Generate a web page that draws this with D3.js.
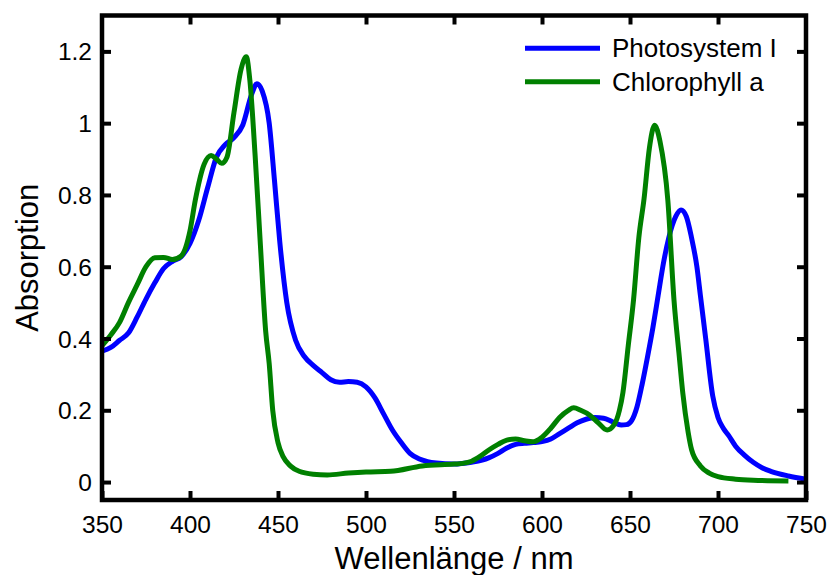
<!DOCTYPE html>
<html lang="de">
<head>
<meta charset="UTF-8" />
<title>Absorptionsspektrum</title>
<script src="https://cdn.jsdelivr.net/npm/d3@7"></script>
<style>
  body { margin: 0; background: #fff; }
  text { font-family: "Liberation Sans", Arial, sans-serif; fill: #000; }
</style>
</head>
<body>
<div id="chart"></div>
<script>
// Wellenlänge (nm) und Absorption
const psiNm = [350, 355, 360, 365, 370, 375, 380, 385, 390, 395, 400, 405, 410, 415, 420, 425, 430, 435, 438, 441,
  445, 448, 451, 455, 460, 465, 470, 475, 480, 485, 490, 495, 500, 505, 510, 515, 520, 525, 530, 535,
  540, 550, 560, 566, 570, 575, 580, 585, 590, 595, 600, 605, 610, 615, 620, 625, 630, 635, 640, 645,
  648, 651, 654, 657, 660, 663, 666, 669, 672, 676, 679, 682, 685, 688, 690, 693, 697, 700, 703, 706,
  710, 715, 720, 725, 730, 740, 750]
const psiAbs = [0.365, 0.375, 0.395, 0.415, 0.46, 0.51, 0.555, 0.595, 0.615, 0.628, 0.665, 0.73, 0.82, 0.905, 0.94, 0.96, 0.995, 1.08, 1.11, 1.09,
  1.0, 0.84, 0.67, 0.5, 0.395, 0.35, 0.325, 0.305, 0.285, 0.278, 0.28, 0.278, 0.265, 0.235, 0.19, 0.145, 0.11, 0.08, 0.065, 0.057,
  0.053, 0.05, 0.055, 0.061, 0.068, 0.08, 0.095, 0.105, 0.108, 0.11, 0.113, 0.12, 0.135, 0.15, 0.165, 0.175, 0.18, 0.178, 0.168, 0.159,
  0.16, 0.172, 0.21, 0.275, 0.35, 0.43, 0.52, 0.61, 0.68, 0.74, 0.758, 0.74, 0.68, 0.6, 0.52, 0.4, 0.24, 0.18, 0.15, 0.13,
  0.1, 0.075, 0.055, 0.04, 0.03, 0.017, 0.008]

const chlNm = [350, 355, 360, 365, 370, 375, 380, 385, 390, 395, 400, 403, 408, 412, 415, 418, 421, 425, 429, 432,
  434, 437, 440, 443, 445, 447, 450, 453, 457, 462, 470, 478, 490, 500, 514, 532, 550, 555, 560, 565,
  570, 575, 580, 585, 590, 595, 600, 605, 610, 615, 618, 622, 627, 632, 637, 641, 644, 646, 649, 652,
  655, 658, 661, 664, 667, 671.5, 675, 678, 680, 683, 685, 690, 695, 700, 710, 720, 740]
const chlAbs = [0.38, 0.41, 0.445, 0.5, 0.55, 0.6, 0.625, 0.626, 0.62, 0.63, 0.7, 0.785, 0.885, 0.91, 0.9, 0.888, 0.905, 1.03, 1.15, 1.185,
  1.12, 0.91, 0.66, 0.42, 0.33, 0.2, 0.11, 0.07, 0.045, 0.03, 0.022, 0.02, 0.025, 0.028, 0.03, 0.045, 0.05, 0.052, 0.058, 0.072,
  0.09, 0.105, 0.117, 0.12, 0.115, 0.112, 0.125, 0.15, 0.18, 0.2, 0.207, 0.2, 0.187, 0.165, 0.145, 0.16, 0.2, 0.25, 0.38, 0.507,
  0.68, 0.79, 0.93, 0.994, 0.95, 0.785, 0.507, 0.35, 0.248, 0.14, 0.09, 0.045, 0.025, 0.015, 0.008, 0.005, 0.003]

const seriesNames = ["Photosystem I", "Chlorophyll a"]
const xTicks = [350, 400, 450, 500, 550, 600, 650, 700, 750]
const yTicks = [0, 0.2, 0.4, 0.6, 0.8, 1, 1.2]

const width = 829
const height = 575
const margin = ({ top: 15.5, right: 23, bottom: 75, left: 102 })
const colors = ["#0000ff", "#008000"]

const x = d3.scaleLinear()
  .domain([350, 750])
  .range([margin.left, width - margin.right])

const y = d3.scaleLinear()
  .domain([-0.05, 1.3])
  .range([height - margin.bottom, margin.top])

const svg = d3.select("#chart").append("svg")
  .attr("width", width)
  .attr("height", height)

const series = [
  psiNm.map((d, i) => ({ x: d, y: psiAbs[i] })),
  chlNm.map((d, i) => ({ x: d, y: chlAbs[i] }))
]

const line = d3.line()
  .x(d => x(d.x))
  .y(d => y(d.y))
  .curve(d3.curveMonotoneX)

svg.append("g")
  .selectAll("path")
  .data(series)
  .join("path")
  .attr("fill", "none")
  .attr("stroke", (d, i) => colors[i])
  .attr("stroke-width", 5)
  .attr("stroke-linejoin", "round")
  .attr("d", line)

// axes with inward ticks on all four sides
const tickLen = 9
const styleAxis = g => {
  g.select(".domain").remove()
  g.selectAll(".tick line").attr("stroke-width", 4)
}

svg.append("g")
  .attr("transform", `translate(0,${y.range()[0]})`)
  .call(d3.axisBottom(x).tickValues(xTicks).tickSize(-tickLen).tickFormat(d3.format("d")))
  .call(styleAxis)
  .call(g => g.selectAll(".tick text").attr("y", 33).attr("dy", 0).attr("font-size", 24.5))

svg.append("g")
  .attr("transform", `translate(0,${y.range()[1]})`)
  .call(d3.axisTop(x).tickValues(xTicks.slice(1, -1)).tickSize(-tickLen).tickFormat(""))
  .call(styleAxis)

svg.append("g")
  .attr("transform", `translate(${x.range()[0]},0)`)
  .call(d3.axisLeft(y).tickValues(yTicks).tickSize(-tickLen).tickFormat(d3.format("~g")))
  .call(styleAxis)
  .call(g => g.selectAll(".tick text").attr("x", -10).attr("dy", "0.35em").attr("font-size", 24.5))

svg.append("g")
  .attr("transform", `translate(${x.range()[1]},0)`)
  .call(d3.axisRight(y).tickValues(yTicks).tickSize(-tickLen).tickFormat(""))
  .call(styleAxis)

svg.append("rect")
  .attr("x", x.range()[0])
  .attr("y", y.range()[1])
  .attr("width", x.range()[1] - x.range()[0])
  .attr("height", y.range()[0] - y.range()[1])
  .attr("fill", "none")
  .attr("stroke", "#000")
  .attr("stroke-width", 4.5)

svg.selectAll("text").style("font-family", "'Liberation Sans', Arial, sans-serif")

// axis titles
svg.append("text")
  .attr("x", (x.range()[0] + x.range()[1]) / 2)
  .attr("y", 569)
  .attr("text-anchor", "middle")
  .attr("font-size", 31)
  .text("Wellenlänge / nm")

svg.append("text")
  .attr("transform", `translate(38,${(y.range()[0] + y.range()[1]) / 2}) rotate(-90)`)
  .attr("text-anchor", "middle")
  .attr("font-size", 31)
  .text("Absorption")

// legend
const legend = svg.append("g")
  .selectAll("g")
  .data(seriesNames)
  .join("g")
  .attr("transform", (d, i) => `translate(525,${48.3 + i * 33.4})`)

legend.append("line")
  .attr("x1", 0)
  .attr("x2", 75)
  .attr("stroke", (d, i) => colors[i])
  .attr("stroke-width", 5)

legend.append("text")
  .attr("x", 87)
  .attr("dy", "0.35em")
  .attr("font-size", 26)
  .text(d => d)
</script>
</body>
</html>
